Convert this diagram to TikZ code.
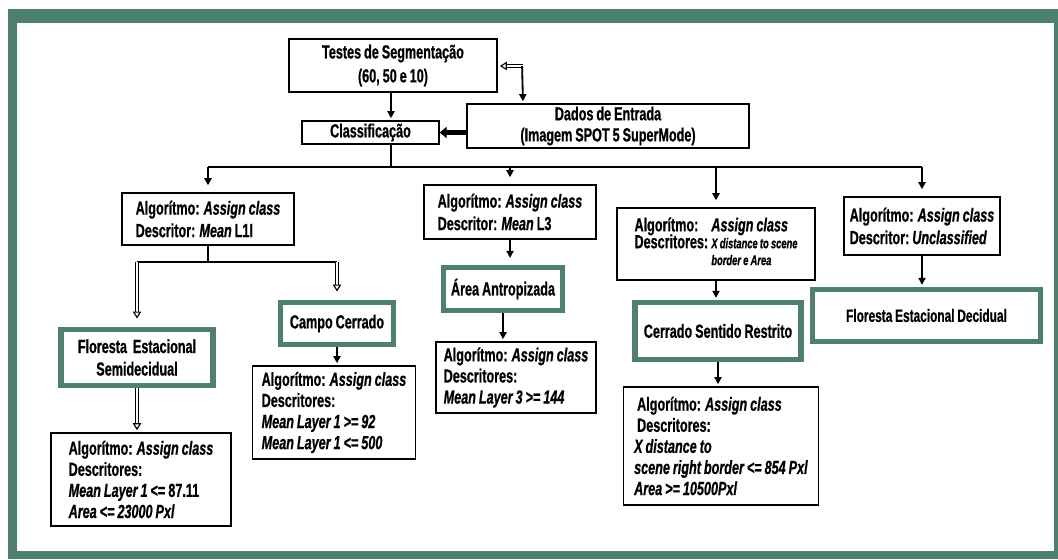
\documentclass[tikz,border=0pt]{standalone}
\usepackage{fontspec}
\setmainfont{Liberation Sans}[FakeStretch=0.665, WordSpace=0.85,
  BoldFeatures={FakeBold=0.7}, BoldItalicFeatures={FakeBold=0.7}]
\usetikzlibrary{arrows.meta}

\definecolor{framegreen}{RGB}{78,128,111}

\tikzset{
  wh/.style 2 args={minimum width=#1*0.025cm, minimum height=#2*0.025cm},
  box/.style={draw, line width=1pt, fill=white, align=left, inner sep=2pt,
    font=\fontsize{13.5}{15}\selectfont\bfseries},
  gbox/.style={draw=framegreen, line width=3.6pt, fill=white, align=center,
    inner sep=2pt, font=\fontsize{13.5}{16}\selectfont\bfseries},
  link/.style={line width=1.3pt},
  arr/.style={line width=1.3pt, shorten >=1.5pt, -{Triangle[length=5pt,width=5pt]}},
  dblarr/.style={line width=0.8pt, double distance=1.2pt, shorten >=1.5pt,
    -{Triangle[open,length=5pt,width=6pt]}},
  heavyarr/.style={line width=3.2pt, -{Triangle[length=5pt,width=8pt]}}
}

\begin{document}
\begin{tikzpicture}[x=0.025cm, y=-0.025cm]
  \useasboundingbox (0,0) rectangle (1058,559);
  % green frame
  \fill[framegreen] (8,9) rectangle (1058,559);
  \fill[white] (16.5,22.7) rectangle (1054,551);

  % top part
  \node[box, align=center, wh={208}{53}, font=\fontsize{13.5}{17}\selectfont\bfseries]
    (testes) at (393,65.5) {Testes de Segmentação\\(60, 50 e 10)};
  \node[box, align=center, wh={137}{23}, inner sep=0pt] (classif) at (370.5,132.5)
    {Classificação};
  \node[box, align=center, wh={282}{44}, inner sep=1pt] (dados) at (608,126)
    {Dados de Entrada\\(Imagem SPOT 5 SuperMode)};

  % algorithms
  \node[box, wh={172}{52}, font=\fontsize{13.5}{16}\selectfont\bfseries] (algA) at (208,219)
    {Algorítmo: \textit{Assign class}\\Descritor: \textit{Mean} L1I};
  \node[box, wh={172}{54}, font=\fontsize{13.5}{16}\selectfont\bfseries] (algB) at (510,212)
    {Algorítmo: \textit{Assign class}\\Descritor: \textit{Mean} L3};
  \node[box, wh={198}{72}] (algC) at (716,244)
    {\begin{tabular}{@{}l@{\,}l@{}}
      Algorítmo: & \textit{Assign class}\\[-3pt]
      Descritores: & {\fontsize{10}{11}\selectfont\itshape X distance to scene}\\[-3pt]
      & {\fontsize{10}{11}\selectfont\itshape border e Area}
    \end{tabular}};
  \node[box, wh={156}{58}, font=\fontsize{13.5}{16}\selectfont\bfseries] (algD) at (922,226)
    {Algorítmo: \textit{Assign class}\\Descritor:\ \textit{Unclassified}};

  % classes
  \node[gbox, wh={152}{56}] (fsemi) at (137,357.5)
    {Floresta\ \ Estacional\\Semidecidual};
  \node[gbox, wh={113}{42}] (campo) at (337,323.5) {Campo Cerrado};
  \node[gbox, wh={119}{43}] (area) at (503,289) {Área Antropizada};
  \node[gbox, wh={166}{57}] (csr) at (718,331) {Cerrado Sentido Restrito};
  \node[gbox, wh={228}{52}, font=\fontsize{12.7}{14}\selectfont\bfseries] (fdec)
    at (926.5,315.5) {Floresta Estacional Decidual};

  % rules
  \node[box, wh={180}{93}] (ruleE) at (141,479.5)
    {Algorítmo: \textit{Assign class}\\Descritores:\\
     \textit{Mean Layer 1} <= 87.11\\\textit{Area <= 23000 Pxl}};
  \node[box, wh={163}{93}] (ruleF) at (334,412.5)
    {Algorítmo: \textit{Assign class}\\Descritores:\\
     \textit{Mean Layer 1 >= 92}\\\textit{Mean Layer 1 <= 500}};
  \node[box, wh={160}{71}] (ruleG) at (516,377.5)
    {Algorítmo: \textit{Assign class}\\Descritores:\\
     \textit{Mean Layer 3 >= 144}};
  \node[box, wh={195}{118}] (ruleH) at (721,446)
    {\ Algorítmo: \textit{Assign class}\\\ Descritores:\\
     \textit{X distance to}\\\textit{scene right border <= 854 Pxl}\\
     \textit{Area >= 10500Pxl}};

  % connectors
  \coordinate (stem) at (391,0);
  \coordinate (jn) at (523,66);
  \coordinate (bus) at (0,167);
  \coordinate (sub) at (0,262);

  \draw[arr] (testes.south -| stem) -- (classif.north -| stem);
  \draw[dblarr] (jn) -- (testes.east |- jn);
  \draw[arr] ([xshift=-0.65pt]jn) -- (dados.north -| jn);
  \draw[heavyarr] (dados.west |- classif) -- (classif.east);

  \draw[link] (classif.south -| stem) -- (stem |- bus);
  \draw[link] (algA.north |- bus) -- (algD.north |- bus);
  \foreach \n in {algA,algB,algC,algD}
    \draw[arr, shorten >=5pt] (\n.north |- bus) -- (\n.north);

  \draw[link] (algA.south) -- (algA.south |- sub);
  \draw[link] (fsemi.north |- sub) -- (campo.north |- sub);
  \draw[dblarr, shorten >=6pt] (fsemi.north |- sub) -- (fsemi.north);
  \draw[dblarr, shorten >=6pt] (campo.north |- sub) -- (campo.north);

  \draw[arr, shorten >=5pt] (algB.south) -- (area.north -| algB.south);
  \draw[arr] (algC.south) -- (csr.north -| algC.south);
  \draw[arr] (algD.south) -- (fdec.north -| algD.south);

  \draw[dblarr] (fsemi.south) -- (ruleE.north -| fsemi.south);
  \draw[arr] (campo.south) -- (ruleF.north -| campo.south);
  \draw[arr] (area.south) -- (ruleG.north -| area.south);
  \draw[arr] (csr.south) -- (ruleH.north -| csr.south);
\end{tikzpicture}
\end{document}
